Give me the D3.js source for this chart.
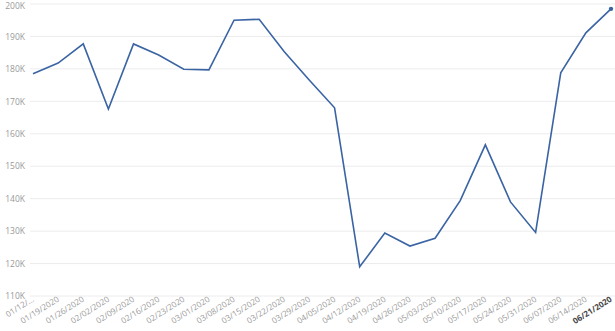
<!DOCTYPE html>
<html><head><meta charset="utf-8">
<script src="https://cdn.jsdelivr.net/npm/d3@7"></script>
<style>body{margin:0;background:#fff}svg{display:block}</style>
</head><body>
<svg id="c" width="615" height="331"></svg>
<script>
const categories = ["01/12/2020","01/19/2020","01/26/2020","02/02/2020","02/09/2020","02/16/2020","02/23/2020","03/01/2020","03/08/2020","03/15/2020","03/22/2020","03/29/2020","04/05/2020","04/12/2020","04/19/2020","04/26/2020","05/03/2020","05/10/2020","05/17/2020","05/24/2020","05/31/2020","06/07/2020","06/14/2020","06/21/2020"];
const values = [178500,181800,187700,167600,187700,184300,179900,179700,195000,195300,185300,176500,168000,119000,129400,125400,127800,139400,156600,139000,129600,178800,191100,198500];
const yTicks = [110000,120000,130000,140000,150000,160000,170000,180000,190000,200000];

const svg = d3.select("#c");
const font = "'Open Sans', 'Noto Sans', sans-serif";
const x = d3.scalePoint().domain(categories).range([33, 611]);
const y = d3.scaleLinear().domain([110000, 200000]).range([296, 4]);

// gridlines
svg.append("g").selectAll("line").data(yTicks).join("line")
  .attr("x1", 30).attr("x2", 615)
  .attr("y1", d => y(d)).attr("y2", d => y(d))
  .attr("stroke", "#ececec").attr("stroke-width", 1);

// y axis labels
const yAxis = d3.axisLeft(y).tickValues(yTicks).tickSize(0).tickPadding(0)
  .tickFormat(d => (d/1000) + "K");
const ya = svg.append("g").attr("transform", "translate(25,0)").call(yAxis);
ya.select(".domain").remove();
ya.selectAll("text").attr("font-family", font).attr("font-size", 8.5).attr("fill", "#999")
  .attr("text-anchor", "end").attr("dy", d => d === 200000 ? "0.55em" : "0.32em");

// x axis labels
const xAxis = d3.axisBottom(x).tickSize(0).tickPadding(0)
  .tickFormat((d, i) => i === 0 ? "01/12/..." : d);
const xa = svg.append("g").attr("transform", "translate(0,296)").call(xAxis);
xa.select(".domain").remove();
xa.selectAll("text")
  .attr("font-family", font).attr("font-size", 8.2)
  .attr("fill", (d, i) => i === categories.length - 1 ? "#444" : "#999")
  .attr("font-weight", (d, i) => i === categories.length - 1 ? "bold" : "normal")
  .attr("text-anchor", "end")
  .attr("dy", "0.7em")
  .attr("transform", "translate(-2,0) rotate(-32)");

// line
const line = d3.line().x((d, i) => x(categories[i])).y(d => y(d));
svg.append("path").datum(values).attr("d", line)
  .attr("fill", "none").attr("stroke", "#3a64a3").attr("stroke-width", 1.6)
  .attr("stroke-linejoin", "miter");

// last point marker
svg.append("circle")
  .attr("cx", x(categories[categories.length-1])).attr("cy", y(values[values.length-1]))
  .attr("r", 2.2).attr("fill", "#3a64a3");
</script>
</body></html>
